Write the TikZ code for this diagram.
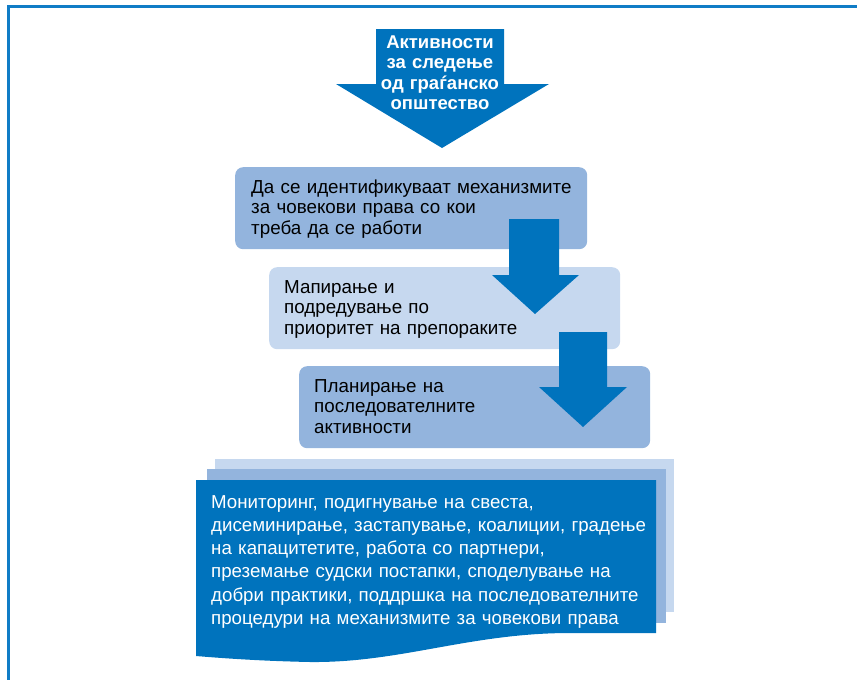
\documentclass[tikz,border=0pt]{standalone}
\usepackage{fontspec}
\setmainfont{Liberation Sans}
\definecolor{dblue}{RGB}{0,115,189}
\definecolor{mblue}{RGB}{147,180,221}
\definecolor{lblue}{RGB}{198,216,239}
\definecolor{fblue}{RGB}{16,124,198}
\begin{document}
\begin{tikzpicture}[x=1pt,y=-1pt,
  stepbox/.style={rounded corners=8pt, draw=none, inner sep=0pt, anchor=north west},
  boxtext/.style={inner sep=0pt, anchor=base west, align=left, text width=#1,
     font=\fontsize{18.8}{20.9}\selectfont, text=black},
  bigarrow/.style={fill=dblue, draw=none},
  sheet/.style={draw=none, inner sep=0pt, anchor=north west}]
\useasboundingbox (0,0) rectangle (857,680);
% frame
\draw[line width=3pt, fblue] (857,6.5) -- (8.8,6.5) -- (8.8,680);

% top arrow
\fill[bigarrow] (376,29) -- (504,29) -- (504,84) -- (549,84) -- (442,148) -- (336,84) -- (376,84) -- cycle;
\node[inner sep=0pt, anchor=base, align=center, text width=128pt, text=white,
      font=\bfseries\fontsize{18.5}{20.6}\selectfont] (title) at (440,48)
      {Активности\\за следење\\од граѓанско\\општество};

% boxes
\node[stepbox, fill=mblue, minimum width=352pt, minimum height=82pt] (b1) at (235,167) {};
\node[boxtext=340pt] (t1) at (251,193) {Да се идентификуваат механизмите\\за човекови права со кои\\треба да се работи};

\node[stepbox, fill=lblue, minimum width=351pt, minimum height=82pt] (b2) at (269,267) {};
\node[boxtext=330pt] (t2) at (284,293) {Мапирање и\\подредување по\\приоритет на препораките};

\node[stepbox, fill=mblue, minimum width=351pt, minimum height=82pt] (b3) at (299,366) {};
\node[boxtext=330pt] (t3) at (314,392) {Планирање на\\последователните\\активности};

% step arrows on top
\fill[bigarrow] (509,219) -- (559,219) -- (559,275) -- (579,275) -- (535,314) -- (492,275) -- (509,275) -- cycle;
\fill[bigarrow] (559,332) -- (607,332) -- (607,387) -- (627,387) -- (583,427) -- (539,387) -- (559,387) -- cycle;

% stacked sheets
\node[sheet, fill=lblue, minimum width=459pt, minimum height=153pt] (s1) at (215,459) {};
\node[sheet, fill=mblue, minimum width=459pt, minimum height=154pt] (s2) at (207,469) {};
\fill[dblue] (196,480) -- (656,480) -- (656,633) -- (570,633)
   .. controls (470,633) and (400,663) .. (310,662)
   .. controls (260,661) and (220,658) .. (196,656) -- cycle;
\node[inner sep=0pt, anchor=base west, align=left, text width=455pt, text=white,
      font=\fontsize{18.7}{23.3}\selectfont] (t4) at (211,508)
 {Мониторинг, подигнување на свеста,\\дисеминирање, застапување, коалиции, градење\\на капацитетите, работа со партнери,\\преземање судски постапки, споделување на\\добри практики, поддршка на последователните\\процедури на механизмите за човекови права};
\end{tikzpicture}
\end{document}
